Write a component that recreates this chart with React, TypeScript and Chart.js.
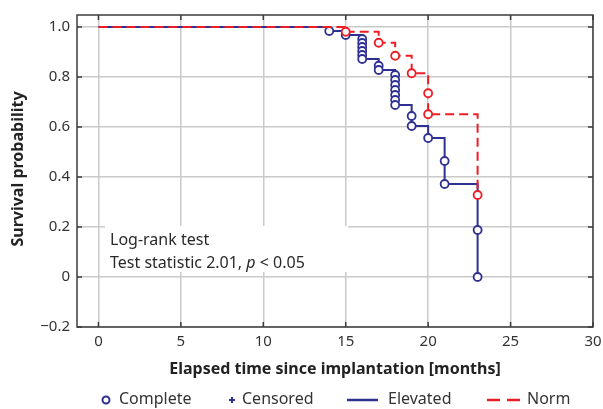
import { useEffect, useRef } from 'react';
import { Chart, registerables } from 'chart.js';
Chart.register(...registerables);

const elevatedTimes = [0, 14, 15, 16, 16, 16, 16, 16, 16, 17, 17, 18, 18, 18, 18, 18, 18, 18, 19, 19, 20, 21, 21, 23, 23];
const elevatedSurvival = [1.0, 0.984, 0.968, 0.952, 0.936, 0.92, 0.904, 0.888, 0.872, 0.845, 0.828, 0.808, 0.788, 0.768, 0.748, 0.728, 0.708, 0.688, 0.644, 0.604, 0.556, 0.464, 0.372, 0.188, 0.0];
const normTimes = [0, 15, 17, 18, 19, 20, 20, 23];
const normSurvival = [1.0, 0.981, 0.937, 0.885, 0.815, 0.735, 0.651, 0.328];
const xTicks = [0, 5, 10, 15, 20, 25, 30];
const yTicks = [-0.2, 0, 0.2, 0.4, 0.6, 0.8, 1.0];
const yTickLabels = ['\u22120.2', '0', '0.2', '0.4', '0.6', '0.8', '1.0'];
const legendLabels = ['Complete', 'Censored', 'Elevated', 'Norm'];
const xTitle = 'Elapsed time since implantation [months]';
const yTitle = 'Survival probability';
const noteLines = ['Log-rank test', 'Test statistic 2.01, ', 'p', ' < 0.05'];

const BLUE = '#2e3192';
const RED = '#ee1c25';
const FONT = '"Noto Sans", sans-serif';

const decorPlugin = {
  id: 'decor',
  beforeDatasetsDraw(chart: any) {
    const ctx = chart.ctx;
    ctx.save();
    ctx.fillStyle = '#ffffff';
    ctx.fillRect(105, 226, 243, 46);
    ctx.fillStyle = '#2a2a2a';
    ctx.font = '16px ' + FONT;
    ctx.textBaseline = 'middle';
    ctx.textAlign = 'left';
    ctx.fillText(noteLines[0], 110, 240);
    let x = 110;
    ctx.fillText(noteLines[1], x, 263);
    x += ctx.measureText(noteLines[1]).width;
    ctx.font = 'italic 16px ' + FONT;
    ctx.fillText(noteLines[2], x, 263);
    x += ctx.measureText(noteLines[2]).width;
    ctx.font = '16px ' + FONT;
    ctx.fillText(noteLines[3], x, 263);
    ctx.restore();
  },
  afterDraw(chart: any) {
    const ctx = chart.ctx;
    const { left, right, top, bottom } = chart.chartArea;
    const xs = chart.scales.x;
    const ys = chart.scales.y;
    ctx.save();
    ctx.strokeStyle = '#3c3c3c';
    ctx.lineWidth = 1.5;
    ctx.strokeRect(left, top, right - left, bottom - top);
    ctx.beginPath();
    const tl = 5;
    xTicks.forEach((v) => {
      const px = xs.getPixelForValue(v);
      ctx.moveTo(px, bottom);
      ctx.lineTo(px, bottom - tl);
      ctx.moveTo(px, top);
      ctx.lineTo(px, top + tl);
    });
    yTicks.forEach((v) => {
      const py = ys.getPixelForValue(v);
      ctx.moveTo(left, py);
      ctx.lineTo(left + tl, py);
      ctx.moveTo(right, py);
      ctx.lineTo(right - tl, py);
    });
    ctx.stroke();
    ctx.fillStyle = '#222';
    ctx.font = 'bold 16px ' + FONT;
    ctx.textAlign = 'center';
    ctx.textBaseline = 'middle';
    ctx.fillText(xTitle, 335, 369);
    ctx.save();
    ctx.translate(18, 169);
    ctx.rotate(-Math.PI / 2);
    ctx.fillText(yTitle, 0, 0);
    ctx.restore();
    const ly = 399;
    ctx.font = '16px ' + FONT;
    ctx.textAlign = 'left';
    ctx.fillStyle = '#333';
    ctx.strokeStyle = BLUE;
    ctx.lineWidth = 2;
    ctx.beginPath();
    ctx.arc(106, ly + 1, 3.5, 0, Math.PI * 2);
    ctx.stroke();
    ctx.fillText(legendLabels[0], 119, ly);
    ctx.beginPath();
    ctx.moveTo(229, ly + 1);
    ctx.lineTo(235, ly + 1);
    ctx.moveTo(232, ly - 2);
    ctx.lineTo(232, ly + 4);
    ctx.stroke();
    ctx.fillText(legendLabels[1], 242, ly);
    ctx.lineWidth = 2.5;
    ctx.beginPath();
    ctx.moveTo(347, ly + 1);
    ctx.lineTo(378, ly + 1);
    ctx.stroke();
    ctx.fillText(legendLabels[2], 388, ly);
    ctx.strokeStyle = RED;
    ctx.beginPath();
    ctx.moveTo(487, ly + 1);
    ctx.lineTo(500, ly + 1);
    ctx.moveTo(507, ly + 1);
    ctx.lineTo(520, ly + 1);
    ctx.stroke();
    ctx.fillText(legendLabels[3], 527, ly);
    ctx.restore();
  },
};

export default function App() {
  const ref = useRef<HTMLCanvasElement | null>(null);
  useEffect(() => {
    document.body.style.margin = '0';
    if (!ref.current) return;
    const pointRadius = (c: any) => (c.dataIndex === 0 ? 0 : 4);
    const chart = new Chart(ref.current, {
      type: 'line',
      data: {
        datasets: [
          {
            label: 'Norm',
            data: normTimes.map((t, i) => ({ x: t, y: normSurvival[i] })),
            borderColor: RED,
            borderWidth: 2,
            borderDash: [9, 5],
            stepped: 'before',
            pointRadius,
            pointBorderColor: RED,
            pointBackgroundColor: '#fff',
            pointBorderWidth: 1.8,
            order: 0,
          },
          {
            label: 'Elevated',
            data: elevatedTimes.map((t, i) => ({ x: t, y: elevatedSurvival[i] })),
            borderColor: BLUE,
            borderWidth: 2,
            stepped: 'before',
            pointRadius,
            pointBorderColor: BLUE,
            pointBackgroundColor: '#fff',
            pointBorderWidth: 1.8,
            order: 1,
          },
        ],
      },
      options: {
        animation: false,
        responsive: true,
        maintainAspectRatio: false,
        layout: { padding: { top: 15, right: 10, left: 0, bottom: 0 } },
        plugins: { legend: { display: false }, tooltip: { enabled: false } },
        scales: {
          x: {
            type: 'linear',
            min: -1.3,
            max: 30,
            afterBuildTicks: (s: any) => {
              s.ticks = xTicks.map((v) => ({ value: v }));
            },
            afterFit: (s: any) => {
              s.height = 82;
              s.paddingLeft = 0;
              s.paddingRight = 0;
            },
            grid: { color: '#cacaca', lineWidth: 1.5, drawTicks: false },
            border: { display: false },
            ticks: {
              padding: 6,
              color: '#333',
              font: { family: FONT, size: 15 },
              maxRotation: 0,
              callback: (v: any) => String(v),
            },
          },
          y: {
            type: 'linear',
            min: -0.2,
            max: 1.048,
            afterBuildTicks: (s: any) => {
              s.ticks = yTicks.map((v) => ({ value: v }));
            },
            afterFit: (s: any) => {
              s.width = 77;
              s.paddingTop = 0;
              s.paddingBottom = 0;
            },
            grid: { color: '#cacaca', lineWidth: 1.5, drawTicks: false },
            border: { display: false },
            ticks: {
              padding: 7,
              color: '#333',
              font: { family: FONT, size: 15 },
              callback: (v: any) => {
                const i = yTicks.findIndex((t) => Math.abs(t - v) < 1e-6);
                return i >= 0 ? yTickLabels[i] : '';
              },
            },
          },
        },
      },
      plugins: [decorPlugin],
    });
    return () => chart.destroy();
  }, []);
  return (
    <div style={{ position: 'fixed', left: 0, top: 0, width: 603, height: 409 }}>
      <canvas ref={ref} />
    </div>
  );
}
